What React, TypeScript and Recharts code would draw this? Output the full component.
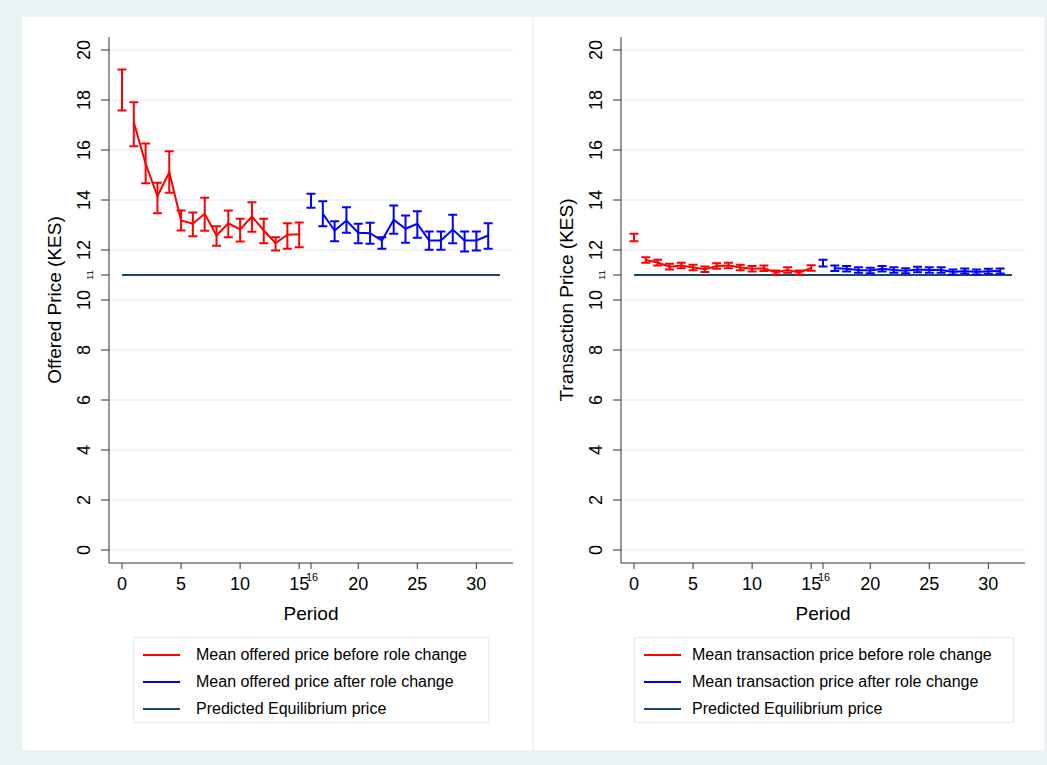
import React from 'react';
import { ComposedChart, Line, Scatter, ErrorBar, XAxis, YAxis, ReferenceLine } from 'recharts';

const periodsBefore = [0, 1, 2, 3, 4, 5, 6, 7, 8, 9, 10, 11, 12, 13, 14, 15];
const periodsAfter = [16, 17, 18, 19, 20, 21, 22, 23, 24, 25, 26, 27, 28, 29, 30, 31];
const eqPeriods = [0, 32];
const eqPrice = 11;

const offeredBeforeMean = [18.4, 17.11, 15.45, 14.15, 15.11, 13.18, 13.05, 13.45, 12.58, 13.07, 12.82, 13.34, 12.78, 12.27, 12.61, 12.63];
const offeredBeforeLo = [17.58, 16.15, 14.67, 13.47, 14.29, 12.78, 12.55, 12.77, 12.17, 12.51, 12.34, 12.73, 12.27, 11.98, 12.05, 12.11];
const offeredBeforeHi = [19.22, 17.91, 16.26, 14.69, 15.95, 13.58, 13.5, 14.09, 12.95, 13.58, 13.25, 13.91, 13.25, 12.51, 13.07, 13.1];

const offeredAfterMean = [13.97, 13.45, 12.78, 13.18, 12.69, 12.67, 12.38, 13.21, 12.85, 13.05, 12.38, 12.38, 12.82, 12.38, 12.38, 12.58];
const offeredAfterLo = [13.69, 12.95, 12.35, 12.69, 12.27, 12.25, 12.05, 12.65, 12.29, 12.49, 12.01, 12.01, 12.27, 11.94, 11.98, 12.05];
const offeredAfterHi = [14.25, 13.95, 13.15, 13.71, 13.05, 13.09, 12.51, 13.78, 13.38, 13.55, 12.74, 12.74, 13.41, 12.74, 12.74, 13.07];

const txBeforeMean = [12.5, 11.6, 11.5, 11.33, 11.38, 11.3, 11.23, 11.36, 11.38, 11.3, 11.25, 11.27, 11.1, 11.2, 11.1, 11.28];
const txBeforeLo = [12.35, 11.49, 11.38, 11.22, 11.27, 11.19, 11.12, 11.25, 11.27, 11.19, 11.14, 11.16, 11.02, 11.09, 11.02, 11.17];
const txBeforeHi = [12.65, 11.71, 11.61, 11.45, 11.49, 11.41, 11.34, 11.47, 11.49, 11.41, 11.36, 11.38, 11.18, 11.31, 11.18, 11.39];

const txAfterMean = [11.47, 11.27, 11.25, 11.2, 11.18, 11.25, 11.2, 11.17, 11.22, 11.2, 11.2, 11.12, 11.16, 11.12, 11.15, 11.16];
const txAfterLo = [11.34, 11.16, 11.14, 11.09, 11.07, 11.14, 11.09, 11.07, 11.11, 11.09, 11.09, 11.02, 11.06, 11.02, 11.05, 11.06];
const txAfterHi = [11.61, 11.38, 11.36, 11.31, 11.29, 11.36, 11.31, 11.27, 11.33, 11.31, 11.31, 11.22, 11.26, 11.22, 11.25, 11.26];

const xTicks = [0, 5, 10, 15, 16, 20, 25, 30];
const gridTicks = [0, 2, 4, 6, 8, 10, 12, 14, 16, 18, 20];
const yTicks = [0, 2, 4, 6, 8, 10, 11, 12, 14, 16, 18, 20];

const RED = '#ff0000';
const BLUE = '#0000ff';
const NAVY = '#1a476f';
const BG = '#eaf2f3';
const FONT = '"Liberation Sans", Arial, Helvetica, sans-serif';

const XTick = (props: any) => {
  const { x, y, payload } = props;
  if (payload.value === 16) {
    return (
      <text x={x + 1} y={y + 10} textAnchor="middle" fontSize={11} fontFamily={FONT} fill="#000">
        16
      </text>
    );
  }
  return (
    <text x={x} y={y + 19} textAnchor="middle" fontSize={18} fontFamily={FONT} fill="#000">
      {payload.value}
    </text>
  );
};

const YTick = (props: any) => {
  const { x, y, payload } = props;
  const small = payload.value === 11;
  return (
    <text
      transform={`translate(${small ? x + 3 : x},${y}) rotate(-90)`}
      textAnchor="middle"
      fontSize={small ? 9 : 18}
      fontFamily={FONT}
      fill="#000"
    >
      {payload.value}
    </text>
  );
};

interface PanelProps {
  left: number;
  yTitle: string;
  beforeMean: number[];
  beforeLo: number[];
  beforeHi: number[];
  afterMean: number[];
  afterLo: number[];
  afterHi: number[];
  labels: string[];
  legendLeft: number;
  legendWidth: number;
  textGap: number;
}

const PricePanel: React.FC<PanelProps> = (p) => {
  // the first period of each phase is drawn without a connecting segment
  const rows = [...periodsBefore, ...periodsAfter, eqPeriods[1]].map((period) => {
    const bi = periodsBefore.indexOf(period);
    const ai = periodsAfter.indexOf(period);
    return {
      period,
      eq: period >= eqPeriods[0] && period <= eqPeriods[1] ? eqPrice : null,
      before: bi > 0 ? p.beforeMean[bi] : null,
      after: ai > 0 ? p.afterMean[ai] : null,
    };
  });
  const beforePts = periodsBefore.map((period, i) => ({
    period,
    mean: p.beforeMean[i],
    err: [p.beforeMean[i] - p.beforeLo[i], p.beforeHi[i] - p.beforeMean[i]],
  }));
  const afterPts = periodsAfter.map((period, i) => ({
    period,
    mean: p.afterMean[i],
    err: [p.afterMean[i] - p.afterLo[i], p.afterHi[i] - p.afterMean[i]],
  }));
  const legendItems = [
    { color: RED, text: p.labels[0] },
    { color: BLUE, text: p.labels[1] },
    { color: NAVY, text: p.labels[2] },
  ];

  return (
    <div style={{ position: 'absolute', left: p.left, top: 17, width: 510, height: 733, background: '#fff' }}>
      <ComposedChart width={510} height={733} data={rows} margin={{ top: 20, right: 19, left: 0, bottom: 0 }}>
        {gridTicks.map((v) => (
          <ReferenceLine key={v} y={v} stroke={BG} strokeWidth={1.5} />
        ))}
        <XAxis
          dataKey="period"
          type="number"
          domain={[-1.1, 33.1]}
          allowDataOverflow
          ticks={xTicks}
          interval={0}
          height={187}
          tickSize={6}
          stroke="#333"
          tick={<XTick />}
          label={(lp: any) => {
            const vb = lp.viewBox;
            return (
              <text x={vb.x + vb.width / 2} y={vb.y + 57} textAnchor="middle" fontSize={19} fontFamily={FONT} fill="#000">
                Period
              </text>
            );
          }}
        />
        <YAxis
          type="number"
          domain={[-0.52, 20.52]}
          allowDataOverflow
          ticks={yTicks}
          interval={0}
          width={87}
          tickSize={8}
          tickMargin={11}
          stroke="#333"
          tick={<YTick />}
          label={(lp: any) => {
            const vb = lp.viewBox;
            return (
              <text
                transform={`translate(${vb.x + 39},${vb.y + vb.height / 2}) rotate(-90)`}
                textAnchor="middle"
                fontSize={19}
                fontFamily={FONT}
                fill="#000"
              >
                {p.yTitle}
              </text>
            );
          }}
        />
        <Line dataKey="eq" type="linear" stroke={NAVY} strokeWidth={2} dot={false} isAnimationActive={false} />
        <Line dataKey="before" type="linear" stroke={RED} strokeWidth={2} dot={false} connectNulls={false} isAnimationActive={false} />
        <Line dataKey="after" type="linear" stroke={BLUE} strokeWidth={2} dot={false} connectNulls={false} isAnimationActive={false} />
        <Scatter data={beforePts} dataKey="mean" shape={() => <g />} isAnimationActive={false}>
          <ErrorBar dataKey="err" direction="y" width={4.5} stroke={RED} strokeWidth={2} />
        </Scatter>
        <Scatter data={afterPts} dataKey="mean" shape={() => <g />} isAnimationActive={false}>
          <ErrorBar dataKey="err" direction="y" width={4.5} stroke={BLUE} strokeWidth={2} />
        </Scatter>
      </ComposedChart>
      <div
        style={{
          position: 'absolute',
          left: p.legendLeft,
          top: 620,
          width: p.legendWidth,
          height: 86,
          boxSizing: 'border-box',
          border: '1px solid #e4ecee',
          paddingTop: 3,
          fontFamily: FONT,
          fontSize: 16,
        }}
      >
        {legendItems.map((it) => (
          <div key={it.text} style={{ height: 27, display: 'flex', alignItems: 'center' }}>
            <div style={{ marginLeft: 9, width: 37, height: 2, background: it.color }} />
            <div style={{ marginLeft: p.textGap, color: '#000', whiteSpace: 'nowrap' }}>{it.text}</div>
          </div>
        ))}
      </div>
    </div>
  );
};

export default function App() {
  return (
    <div style={{ position: 'absolute', left: 0, top: 0, width: 1047, height: 765, background: BG, overflow: 'hidden' }}>
      <PricePanel
        left={22}
        yTitle="Offered Price (KES)"
        beforeMean={offeredBeforeMean}
        beforeLo={offeredBeforeLo}
        beforeHi={offeredBeforeHi}
        afterMean={offeredAfterMean}
        afterLo={offeredAfterLo}
        afterHi={offeredAfterHi}
        labels={['Mean offered price before role change', 'Mean offered price after role change', 'Predicted Equilibrium price']}
        legendLeft={111}
        legendWidth={356}
        textGap={16}
      />
      <div style={{ position: 'absolute', left: 532, top: 17, width: 2, height: 733, background: '#f1f5f6' }} />
      <PricePanel
        left={534}
        yTitle="Transaction Price (KES)"
        beforeMean={txBeforeMean}
        beforeLo={txBeforeLo}
        beforeHi={txBeforeHi}
        afterMean={txAfterMean}
        afterLo={txAfterLo}
        afterHi={txAfterHi}
        labels={['Mean transaction price before role change', 'Mean transaction price after role change', 'Predicted Equilibrium price']}
        legendLeft={100}
        legendWidth={380}
        textGap={11}
      />
    </div>
  );
}
